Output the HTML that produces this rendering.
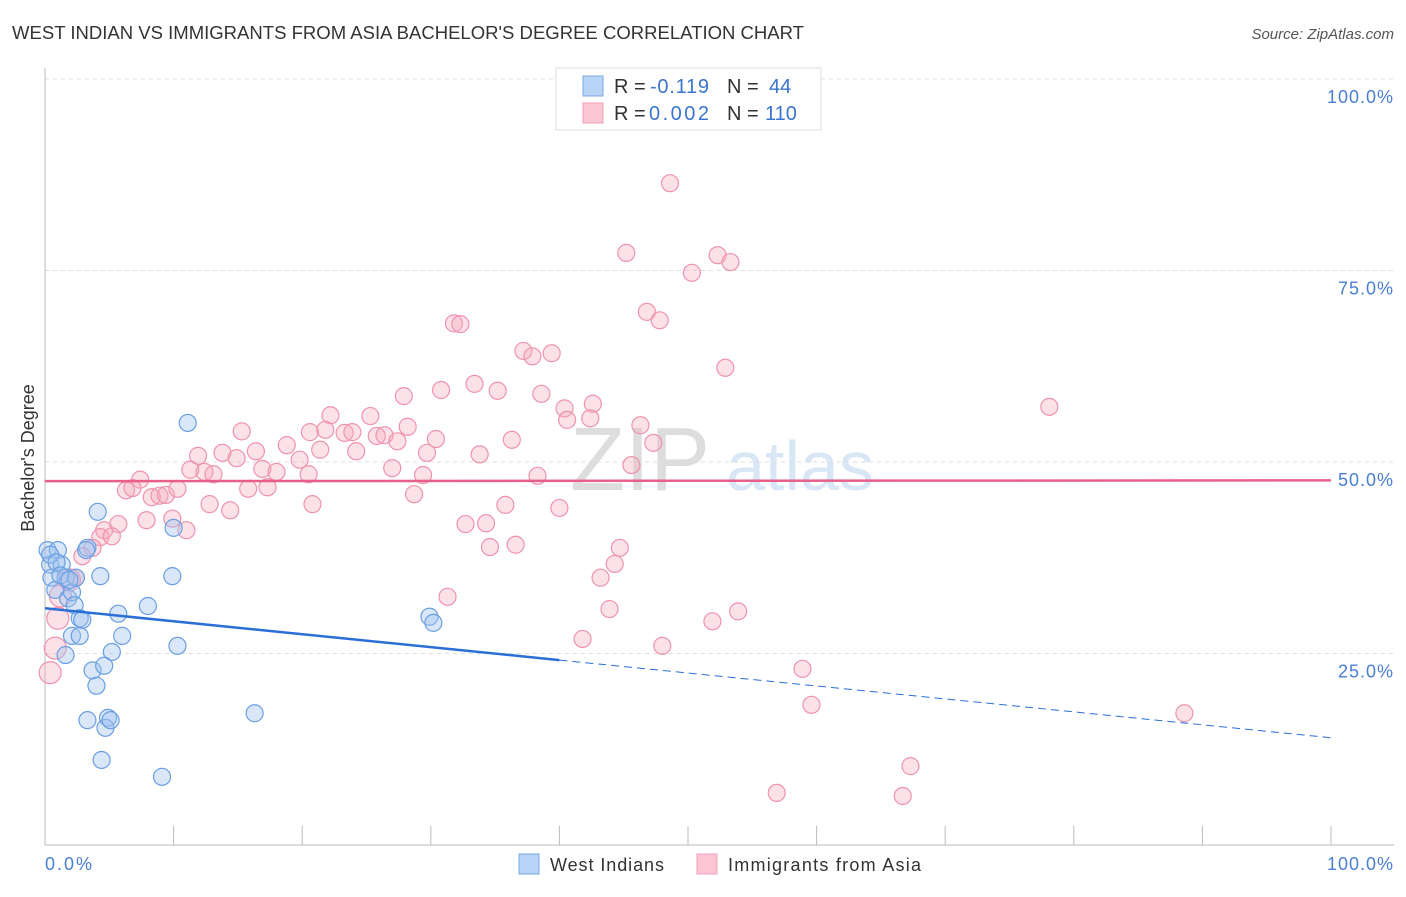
<!DOCTYPE html>
<html><head><meta charset="utf-8"><style>
body{margin:0;background:#fff;font-family:"Liberation Sans",sans-serif}
svg text{font-family:"Liberation Sans",sans-serif}
</style></head><body>
<svg id="c" width="1406" height="892">
<text x="12" y="39" font-size="18" fill="#333" textLength="792" lengthAdjust="spacingAndGlyphs">WEST INDIAN VS IMMIGRANTS FROM ASIA BACHELOR'S DEGREE CORRELATION CHART</text>
<text x="1394" y="39" font-size="15" fill="#555" text-anchor="end" font-style="italic">Source: ZipAtlas.com</text>
<text x="640" y="490" font-size="90" fill="#ddd" text-anchor="middle" font-family="Liberation Serif">ZIP</text>
<text x="800" y="490" font-size="70" fill="#d8e6f6" text-anchor="middle">atlas</text>
<g id="grid"></g><g id="pts"></g><g id="trend"></g>
<text transform="translate(34,458) rotate(-90)" font-size="18" fill="#333" text-anchor="middle">Bachelor's Degree</text>
<text x="45" y="870" font-size="18" fill="#4a7fd4" textLength="47">0.0%</text>
<text x="1327" y="870" font-size="18" fill="#4a7fd4" textLength="66">100.0%</text>
<g>
<rect x="556" y="68" width="265" height="62" fill="#fff" stroke="#ddd"/>
<rect x="583" y="76" width="20" height="20" fill="#b8d4f6" stroke="#7aa8e6"/>
<rect x="583" y="103" width="20" height="20" fill="#fcc6d4" stroke="#f0a0b8"/>
<text x="614" y="93" font-size="20" fill="#333">R = <tspan fill="#3b74d0" x="650" textLength="59">-0.119</tspan><tspan x="727">N = </tspan><tspan fill="#3b74d0" x="769">44</tspan></text>
<text x="614" y="120" font-size="20" fill="#333">R = <tspan fill="#3b74d0" x="649" textLength="60">0.002</tspan><tspan x="727">N = </tspan><tspan fill="#3b74d0" x="765">110</tspan></text>
</g>
<g>
<rect x="519" y="854" width="20" height="20" fill="#b8d4f6" stroke="#7aa8e6"/>
<text x="550" y="871" font-size="18" fill="#333" textLength="114">West Indians</text>
<rect x="697" y="854" width="20" height="20" fill="#fcc6d4" stroke="#f0a0b8"/>
<text x="728" y="871" font-size="18" fill="#333" textLength="193">Immigrants from Asia</text>
</g>
</svg>
<script>
const yTicks=[25,50,75,100];
const yTickLabels=["25.0%","50.0%","75.0%","100.0%"];
const xTicks=[0,10,20,30,40,50,60,70,80,90,100];
const blueX=[0.2,1.0,0.4,1.3,0.5,1.6,0.8,1.8,2.1,2.3,2.7,2.1,2.7,1.6,4.1,3.3,4.3,3.2,5.7,6.0,5.2,3.7,4.6,4.0,3.3,4.9,4.7,4.4,8.0,9.9,10.0,10.3,11.1,9.1,16.3,29.9,30.2,0.4,0.9,1.2,2.4,2.9,5.1,1.9];
const blueY=[38.5,38.5,36.6,36.6,34.9,34.9,33.3,32.2,33.0,31.3,29.6,27.3,27.3,24.8,43.5,38.8,35.1,38.5,30.2,27.3,25.2,22.8,23.4,20.8,16.3,16.6,15.3,11.1,31.2,35.1,41.4,26.0,55.1,8.9,17.2,29.8,29.0,37.9,36.9,35.2,34.9,29.4,16.3,34.6];
const pinkX=[48.6,45.2,52.3,53.3,50.3,31.8,32.3,46.8,47.8,52.9,37.2,37.9,39.4,30.8,33.4,35.2,27.9,38.6,42.6,22.2,25.3,40.4,40.6,42.4,46.3,78.1,15.3,20.6,21.8,23.3,23.9,25.8,26.4,28.2,30.4,36.3,47.3,11.9,13.8,16.4,14.9,18.8,19.8,21.4,24.2,27.4,29.7,33.8,11.3,12.4,13.1,16.9,18.0,20.5,27.0,29.4,45.6,38.3,7.4,6.3,6.8,8.3,8.9,9.4,10.3,15.8,17.3,28.7,12.8,14.4,20.8,35.8,40.0,5.7,7.9,9.9,11.0,4.6,4.3,5.2,32.7,34.3,3.7,2.9,34.6,36.6,44.7,44.3,43.2,2.4,1.9,1.2,31.3,43.9,53.9,51.9,41.8,48.0,1.0,0.8,0.4,58.9,59.6,88.6,67.3,56.9,66.7];
const pinkY=[86.4,77.3,77.0,76.1,74.7,68.1,68.0,69.6,68.5,62.3,64.5,63.8,64.2,59.4,60.2,59.3,58.6,58.9,57.6,56.1,56.0,57.0,55.5,55.7,54.8,57.2,54.0,53.9,54.2,53.8,53.9,53.4,53.5,54.6,53.0,52.9,52.5,50.8,51.2,51.4,50.5,52.2,50.3,51.6,51.4,52.7,51.2,51.0,49.0,48.7,48.4,49.1,48.7,48.4,49.2,48.3,49.6,48.2,47.7,46.3,46.6,45.4,45.6,45.7,46.5,46.5,46.7,45.8,44.5,43.7,44.5,44.4,44.0,41.9,42.4,42.6,41.1,41.1,40.2,40.3,41.9,42.0,38.8,37.7,38.9,39.2,38.8,36.7,34.9,34.9,34.6,32.5,32.4,30.8,30.5,29.2,26.9,26.0,29.6,25.7,22.5,23.0,18.3,17.2,10.3,6.8,6.4];
const blueTrend=[30.9,14.0];
const pinkTrend=[47.5,47.6];
const X=v=>45+v*12.86, Y=v=>845-v*7.66;
const NS="http://www.w3.org/2000/svg";
function mk(t,a,p){const e=document.createElementNS(NS,t);for(const k in a)e.setAttribute(k,a[k]);p.appendChild(e);return e;}
const g=document.getElementById('grid'),svg=document.getElementById('c');
yTicks.forEach((t,i)=>{const l=mk('line',{x1:45,x2:1394,y1:Y(t),y2:Y(t),stroke:'#ddd','stroke-dasharray':'4,4'},g);

const tx=mk('text',{x:1393,y:Y(t)+24,'font-size':18,fill:'#4a7fd4','text-anchor':'end',textLength:yTickLabels[i].length*11},g);tx.textContent=yTickLabels[i];
});
const ax=mk('line',{x1:45,x2:1394,y1:845,y2:845,stroke:'#bbb'},g);

const ay=mk('line',{x1:45,x2:45,y1:68,y2:845,stroke:'#bbb'},g);

xTicks.forEach(t=>{const l=mk('line',{x1:X(t),x2:X(t),y1:826,y2:845,stroke:'#bbb'},g);
});
const p=document.getElementById('pts');
pinkX.forEach((x,i)=>{const c=mk('circle',{cx:X(x),cy:Y(pinkY[i]),r:x<2?11:8.5,fill:'rgba(246,170,192,0.35)',stroke:'#ee93ae','stroke-width':1.2},p);
});
blueX.forEach((x,i)=>{const c=mk('circle',{cx:X(x),cy:Y(blueY[i]),r:8.5,fill:'rgba(160,196,240,0.4)',stroke:'#6b9fe2','stroke-width':1.2},p);
});
const tr=document.getElementById('trend');
const bs=v=>blueTrend[0]+(blueTrend[1]-blueTrend[0])*v/100;
const b1=mk('line',{x1:X(0),y1:Y(bs(0)),x2:X(40),y2:Y(bs(40)),stroke:'#2a6fd6','stroke-width':2.5},tr);

const b2=mk('line',{x1:X(40),y1:Y(bs(40)),x2:X(100),y2:Y(bs(100)),stroke:'#2a6fd6','stroke-width':1,'stroke-dasharray':'8,5'},tr);

const p1=mk('line',{x1:X(0),y1:Y(pinkTrend[0]),x2:X(100),y2:Y(pinkTrend[1]),stroke:'#e8608a','stroke-width':2.5},tr);

</script>
</body></html>
